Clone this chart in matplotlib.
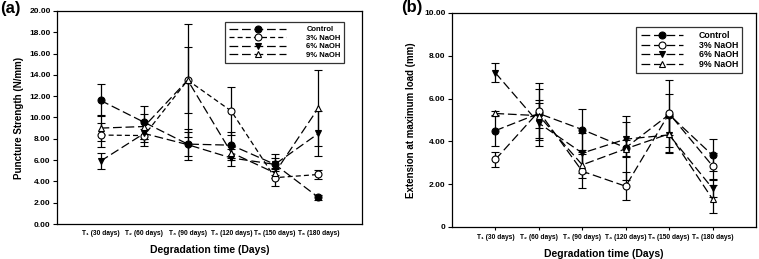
import numpy as np
import matplotlib.pyplot as plt
from matplotlib.ticker import FuncFormatter

plt.rcParams['font.family'] = ['Liberation Sans', 'DejaVu Sans']

# categories (shared by both panels)
days = ['T\u2081 (30 days)', 'T\u2082 (60 days)', 'T\u2083 (90 days)',
        'T\u2084 (120 days)', 'T\u2085 (150 days)', 'T\u2086 (180 days)']
series = ['Control', '3% NaOH', '6% NaOH', '9% NaOH']

# (a) puncture strength (N/mm)
punct_control = [11.6, 9.55, 7.5, 7.4, 5.6, 2.5]
punct_control_err = [1.5, 1.55, 1.1, 1.2, 1.0, 0.25]
punct_3 = [8.35, 8.3, 13.5, 10.6, 4.35, 4.65]
punct_3_err = [1.1, 0.6, 3.1, 2.25, 0.8, 0.4]
punct_6 = [5.9, 8.5, 7.45, 6.2, 5.6, 8.5]
punct_6_err = [0.75, 1.2, 1.45, 0.8, 0.6, 2.1]
punct_9 = [9.0, 9.15, 13.5, 6.7, 4.8, 10.9]
punct_9_err = [1.2, 1.2, 5.3, 0.7, 0.5, 3.55]

# (b) extension at maximum load (mm)
ext_control = [4.5, 5.3, 4.55, 3.7, 5.25, 3.35]
ext_control_err = [0.72, 1.15, 0.95, 1.5, 0.95, 0.75]
ext_3 = [3.15, 5.4, 2.6, 1.9, 5.3, 2.85]
ext_3_err = [0.35, 1.32, 0.8, 0.65, 1.55, 0.6]
ext_6 = [7.2, 4.85, 3.45, 4.1, 4.3, 1.8]
ext_6_err = [0.45, 1.07, 0.95, 0.8, 0.85, 0.4]
ext_9 = [5.3, 5.2, 2.9, 3.65, 4.35, 1.3]
ext_9_err = [0.12, 0.6, 0.6, 0.4, 0.85, 0.65]

markers = ['o', 'o', 'v', '^']
faces = ['black', 'white', 'black', 'white']
dashes_a = [(7, 3), (4, 2.5), (7, 3), (7, 3)]
dashes_b = [(7, 3), (7, 3), (7, 3), (7, 3)]

fig = plt.figure(figsize=(7.59, 2.59), dpi=100)
ax1 = fig.add_axes([0.075, 0.135, 0.402, 0.823])
ax2 = fig.add_axes([0.5955, 0.124, 0.4005, 0.826])

x = np.arange(1, len(days) + 1)


def draw_panel(ax, vals, errs, dashes, legsize, legspace, hlen, hpad, anchor):
    handles = []
    for i in range(len(series)):
        ax.errorbar(x, vals[i], yerr=errs[i], fmt='none', ecolor='black',
                    elinewidth=0.9, capsize=3, capthick=0.8, zorder=2)
        line, = ax.plot(x, vals[i], color='black', lw=0.9, dashes=dashes[i],
                        marker=markers[i], markersize=5, markerfacecolor=faces[i],
                        markeredgecolor='black', markeredgewidth=0.8,
                        label=series[i], zorder=3)
        handles.append(line)
    ax.set_xlim(0, 7)
    ax.set_xticks(x)
    ax.set_xticklabels(days, fontsize=4.8, fontweight='bold')
    ax.set_xlabel('Degradation time (Days)', fontsize=7.5, fontweight='bold', labelpad=6)
    for sp in ax.spines.values():
        sp.set_linewidth(0.9)
    ax.tick_params(axis='y', direction='out', length=3, width=0.8, labelsize=6, pad=1.5)
    leg = ax.legend(handles=handles, loc='upper right', fontsize=legsize, handlelength=hlen,
                    handletextpad=hpad, labelspacing=legspace, borderpad=0.5,
                    frameon=True, fancybox=False, edgecolor='black',
                    bbox_to_anchor=anchor)
    leg.get_frame().set_linewidth(0.9)
    for t in leg.get_texts():
        t.set_fontweight('bold')


draw_panel(ax1, [punct_control, punct_3, punct_6, punct_9],
           [punct_control_err, punct_3_err, punct_6_err, punct_9_err], dashes_a,
           5.5, 0.15, 7.5, 2.6, (0.955, 0.965))
ax1.set_ylim(0, 20)
ax1.set_yticks(np.arange(0, 21, 2))
ax1.yaxis.set_major_formatter(FuncFormatter(lambda v, p: '%.2f' % v))
ax1.tick_params(axis='x', length=0, pad=4)
ax1.set_ylabel('Puncture Strength (N/mm)', fontsize=7, fontweight='bold', labelpad=4)
for lab in ax1.get_yticklabels():
    lab.set_fontweight('bold')

draw_panel(ax2, [ext_control, ext_3, ext_6, ext_9],
           [ext_control_err, ext_3_err, ext_6_err, ext_9_err], dashes_b,
           6.3, 0.05, 4.8, 1.8, (0.97, 0.955))
ax2.set_ylim(0, 10)
ax2.set_yticks(np.arange(0, 11, 2))
ax2.yaxis.set_major_formatter(FuncFormatter(lambda v, p: '0' if v == 0 else '%.2f' % v))
ax2.tick_params(axis='x', direction='out', length=2, width=0.8, pad=3)
ax2.set_ylabel('Extension at maximum load (mm)', fontsize=7, fontweight='bold', labelpad=6)
for lab in ax2.get_yticklabels():
    lab.set_fontweight('bold')

fig.text(0.0, 0.995, '(a)', fontsize=12, fontweight='bold', va='top', ha='left')
fig.text(0.529, 1.0, '(b)', fontsize=12, fontweight='bold', va='top', ha='left')

fig.savefig('out.png', dpi=100)
